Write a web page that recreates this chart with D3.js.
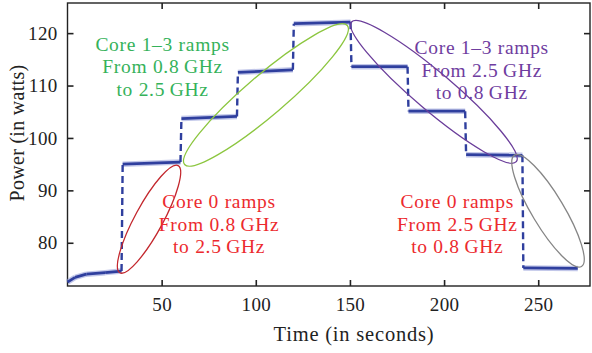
<!DOCTYPE html>
<html><head><meta charset="utf-8">
<script src="https://cdn.jsdelivr.net/npm/d3@7/dist/d3.min.js"></script>
<style>
html,body{margin:0;padding:0;background:#fff;}
svg{display:block;font-family:"Liberation Serif","DejaVu Serif",serif;}
</style></head>
<body><svg id="c" width="592" height="353"></svg>
<script>
// Data (time in seconds, power in watts)
const timeSec = [0, 4, 10, 20, 28.7, 29.3, 60, 60.5, 90, 90.5, 119.7, 120.2, 150.3, 150.8, 180.6, 181.1, 211.2, 211.7, 241.6, 242.1, 271];
const powerW  = [72.5, 73.4, 74.0, 74.3, 74.6, 95.0, 95.4, 103.7, 104.1, 112.5, 113.0, 121.8, 122.1, 113.6, 113.6, 105.1, 105.1, 96.8, 96.7, 75.2, 75.1];
const xTicks = [50, 100, 150, 200, 250];
const yTicks = [80, 90, 100, 110, 120];
const notes = [
  {lines: ["Core 1\u20133 ramps", "From 0.8\u2009GHz", "to 2.5\u2009GHz"], t: 50.5, p: 116.6, color: "#35b25a"},
  {lines: ["Core 1\u20133 ramps", "From 2.5\u2009GHz", "to 0.8\u2009GHz"], t: 220, p: 116.0, color: "#6f3d9f"},
  {lines: ["Core 0 ramps", "From 0.8\u2009GHz", "to 2.5\u2009GHz"], t: 80.5, p: 86.6, color: "#ec2a2e"},
  {lines: ["Core 0 ramps", "From 2.5\u2009GHz", "to 0.8\u2009GHz"], t: 207, p: 86.6, color: "#ec2a2e"}
];
// highlight ellipses: center (t,p), rotation deg
const ellipses = [
  {t: 43.3, p: 84.5, a: 61, b: 14, rot: -61.5, color: "#c3272d"},
  {t: 105.4, p: 108.2, a: 107, b: 20, rot: -40.5, color: "#8cc63f"},
  {t: 194.6, p: 108.8, a: 108, b: 19, rot: 40.3, color: "#6a3d9a"},
  {t: 255.2, p: 86.1, a: 65, b: 16, rot: 59, color: "#858585"}
];

const svg = d3.select("#c");
const x = d3.scaleLinear().domain([0, 277.5]).range([67.5, 590]);
const y = d3.scaleLinear().domain([71.75, 125.75]).range([286, 3]);

const axColor = "#222";
svg.append("rect").attr("x", 67.5).attr("y", 3).attr("width", 590 - 67.5).attr("height", 283)
  .attr("fill", "none").attr("stroke", axColor).attr("stroke-width", 1.4);

const gB = svg.append("g").attr("transform", "translate(0,286)")
  .call(d3.axisBottom(x).tickValues(xTicks).tickSizeInner(-6).tickSizeOuter(0).tickPadding(12));
const gT = svg.append("g").attr("transform", "translate(0,3)")
  .call(d3.axisTop(x).tickValues(xTicks).tickSizeInner(-6).tickSizeOuter(0).tickFormat(""));
const gL = svg.append("g").attr("transform", "translate(67.5,0)")
  .call(d3.axisLeft(y).tickValues(yTicks).tickSizeInner(-6).tickSizeOuter(0).tickPadding(10));
const gR = svg.append("g").attr("transform", "translate(590,0)")
  .call(d3.axisRight(y).tickValues(yTicks).tickSizeInner(-6).tickSizeOuter(0).tickFormat(""));
[gB, gT, gL, gR].forEach(g => {
  g.select(".domain").remove();
  g.selectAll(".tick line").attr("stroke", axColor).attr("stroke-width", 1.6);
  g.selectAll(".tick text").attr("fill", "#222").attr("font-size", 19)
    .attr("letter-spacing", 0.3)
    .attr("font-family", "Liberation Serif, DejaVu Serif, serif");
});

// data line: plateaus solid/thick, transitions dashed
const blue = "#2f3f9e";
const gHalo = svg.append("g");
const gLine = svg.append("g");
const pts = timeSec.map((t, i) => [x(t), y(powerW[i])]);
for (let i = 0; i < pts.length - 1; i++) {
  const dt = timeSec[i + 1] - timeSec[i];
  const vertical = dt < 1;
  const seg = gLine.append("line")
    .attr("x1", pts[i][0]).attr("y1", pts[i][1])
    .attr("x2", pts[i + 1][0]).attr("y2", pts[i + 1][1])
    .attr("stroke", blue).attr("stroke-linecap", "butt");
  if (vertical) {
    seg.attr("stroke-width", 2.4).attr("stroke-dasharray", "7,4");
  } else {
    gHalo.append("line")
      .attr("x1", pts[i][0]).attr("y1", pts[i][1])
      .attr("x2", pts[i + 1][0]).attr("y2", pts[i + 1][1])
      .attr("stroke", "#9aa3dc").attr("stroke-width", 5.5).attr("opacity", 0.6);
    seg.attr("stroke-width", 2.8);
  }
}

// ellipses
ellipses.forEach(e => {
  svg.append("ellipse")
    .attr("transform", `translate(${x(e.t)},${y(e.p)}) rotate(${e.rot})`)
    .attr("rx", e.a).attr("ry", e.b)
    .attr("fill", "none").attr("stroke", e.color).attr("stroke-width", 1.3);
});

// annotations
notes.forEach(n => {
  const tx = svg.append("text").attr("text-anchor", "middle")
    .attr("fill", n.color).attr("font-size", 19.5).attr("letter-spacing", 0.7);
  n.lines.forEach((l, i) => {
    tx.append("tspan").attr("x", x(n.t)).attr("y", y(n.p) + i * 22.5).text(l);
  });
});

// axis titles
svg.append("text").attr("x", 354).attr("y", 341).attr("text-anchor", "middle")
  .attr("font-size", 20.5).attr("letter-spacing", 0.8).attr("fill", "#222").text("Time (in seconds)");
svg.append("text").attr("transform", "translate(24,133) rotate(-90)").attr("text-anchor", "middle")
  .attr("font-size", 20).attr("letter-spacing", 0.3).attr("fill", "#222").text("Power (in watts)");
</script></body></html>
